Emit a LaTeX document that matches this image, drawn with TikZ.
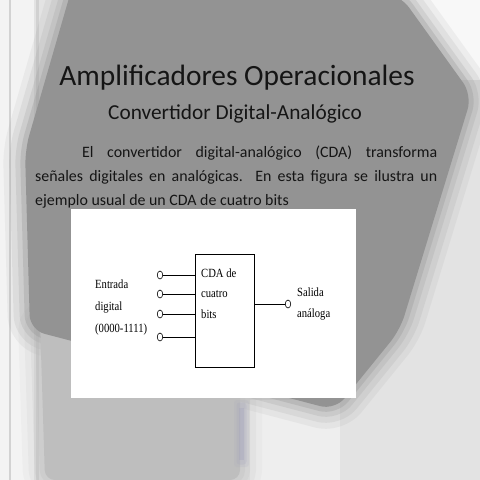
\documentclass[tikz,border=0pt]{standalone}
\usepackage{fontspec}
\usetikzlibrary{shapes.geometric}
\setmainfont{Carlito}
\newfontfamily\diagfont[FakeStretch=0.85]{Liberation Serif}
\definecolor{bgc}{HTML}{E3E3E3}
\definecolor{chipc}{HTML}{939393}
\definecolor{midc}{HTML}{BEBEBE}
\definecolor{txtc}{HTML}{151515}
\definecolor{stripec}{HTML}{A4A4BC}
\tikzset{
  pin/.style={ellipse, draw=black, fill=white, line width=0.6pt, minimum width=5.5pt, minimum height=8pt, inner sep=0pt},
  wire/.style={line width=0.7pt, black},
  cdabox/.style={draw=black, line width=0.8pt, fill=white},
  lbl/.style={font=\diagfont\fontsize{12.5}{20.5}\selectfont, align=left, inner sep=0pt, anchor=base west},
}
\begin{document}
\begin{tikzpicture}[x=1pt,y=-1pt]
\useasboundingbox (0,0) rectangle (480,480);
% background (blurred photo approximation)
\fill[bgc] (0,0) rectangle (480,480);
\fill[white!75!bgc] (360,0) rectangle (480,80);
\fill[white!55!bgc] (0,0) rectangle (34,480);
\fill[white!40!bgc] (250,400) rectangle (340,480);
\draw[gray!45, line width=3pt, opacity=0.6] (37,0) -- (37,480);
\draw[gray!35, line width=1.5pt] (10,0) -- (10,480);
\draw[gray!35, line width=2pt, opacity=0.6] (100,398) -- (100,480);
\foreach \w/\o in {44/0.10,32/0.14,20/0.2,10/0.3}{
  \draw[midc, line width=\w pt, opacity=\o, line join=round, rounded corners=10pt] (40,320) -- (240,360) -- (240,480) -- (45,480) -- cycle;
  \draw[chipc, line width=\w pt, opacity=\o, line join=round, rounded corners=15pt] (80,-40) -- (400,-5) -- (472,95) -- (400,330) -- (335,410) -- (30,330) -- (25,150) -- cycle;
}
\fill[midc, rounded corners=10pt] (40,320) -- (240,360) -- (240,480) -- (45,480) -- cycle;
\fill[chipc, rounded corners=15pt] (80,-40) -- (400,-5) -- (472,95) -- (400,330) -- (335,410) -- (30,330) -- (25,150) -- cycle;
\foreach \w/\o in {5/0.15,2.5/0.2}{
  \fill[stripec, opacity=\o, rounded corners=3pt] (239-\w,405-\w) rectangle (244+\w,462+\w);
}
\fill[stripec, opacity=0.35] (239,408) rectangle (244,460);
% white panel
\fill[white] (71,209) rectangle (356,398);
% titles
\node[text=txtc, font=\fontsize{29.4}{34}\selectfont, anchor=base] (title) at (237,85) {Amplificadores Operacionales};
\node[text=txtc, font=\fontsize{21.3}{26}\selectfont, anchor=base] (subtitle) at (235,119) {Convertidor Digital-Analógico};
\node[text=txtc, font=\fontsize{15.9}{24}\selectfont, anchor=base west, inner sep=0pt, text width=402pt, align=justify] (para) at (35,157)
  {\hspace*{47pt}El convertidor digital-analógico (CDA) transforma\linebreak señales digitales en analógicas.\ \ En esta figura se ilustra un\linebreak ejemplo usual de un CDA de cuatro bits};
% diagram
\node[cdabox, minimum width=59pt, minimum height=113pt, anchor=north west, inner sep=0pt] (cda) at (195,254) {};
\node[lbl] (cdatxt) at (201,318) {CDA de\\cuatro\\bits};
\node[lbl, font=\diagfont\fontsize{12.5}{22}\selectfont] (entrada) at (95,332) {Entrada\\digital\\(0000-1111)};
\node[lbl, font=\diagfont\fontsize{12.5}{21}\selectfont] (salida) at (297,317) {Salida\\análoga};
\node[pin] (i1) at (160,275) {};
\node[pin] (i2) at (160,294) {};
\node[pin] (i3) at (160,314) {};
\node[pin] (i4) at (160,337) {};
\node[pin] (o1) at (288,304) {};
\foreach \i in {1,...,4}{
  \draw[wire] (i\i.east) -- (i\i.east -| cda.west);
}
\draw[wire] (o1.west -| cda.east) -- (o1.west);
\end{tikzpicture}
\end{document}
